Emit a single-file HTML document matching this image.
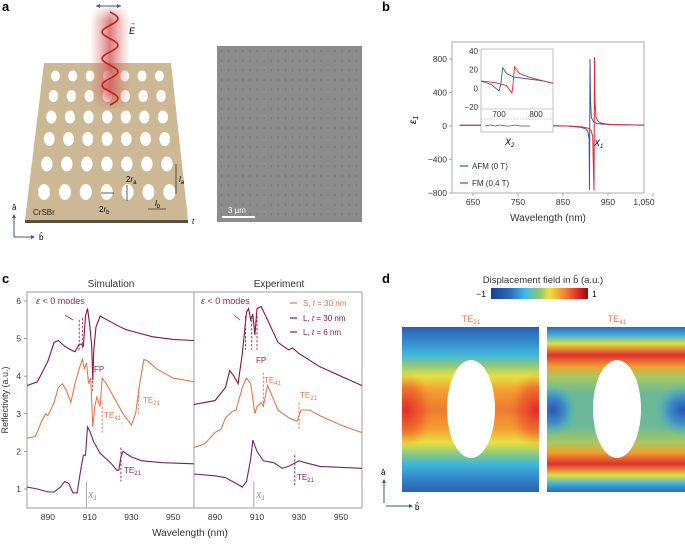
<!DOCTYPE html>
<html><head><meta charset="utf-8">
<style>
html,body{margin:0;padding:0;background:#fff;}
body{width:685px;height:539px;overflow:hidden;font-family:"Liberation Sans",sans-serif;}
svg text{font-family:"Liberation Sans",sans-serif;}
</style></head>
<body>
<svg id="fig" width="685" height="539" viewBox="0 0 685 539" xmlns="http://www.w3.org/2000/svg">
<defs>
<linearGradient id="beam" x1="0" x2="1" y1="0" y2="0">
<stop offset="0" stop-color="#e07070" stop-opacity="0"/><stop offset="0.5" stop-color="#d05050" stop-opacity="0.75"/><stop offset="1" stop-color="#e07070" stop-opacity="0"/></linearGradient>
<linearGradient id="beamv" x1="0" x2="0" y1="0" y2="1">
<stop offset="0" stop-color="#fff" stop-opacity="0"/><stop offset="0.15" stop-color="#fff" stop-opacity="1"/><stop offset="0.85" stop-color="#fff" stop-opacity="1"/><stop offset="1" stop-color="#fff" stop-opacity="0"/></linearGradient>
<mask id="bm"><rect x="90" y="5" width="40" height="105" fill="url(#beamv)"/></mask>
<linearGradient id="cbar" x1="0" x2="1">
<stop offset="0" stop-color="#1a3f8f"/><stop offset="0.2" stop-color="#2f6cc0"/><stop offset="0.35" stop-color="#40b8e8"/><stop offset="0.5" stop-color="#8cc870"/><stop offset="0.6" stop-color="#f0e040"/><stop offset="0.75" stop-color="#f08a30"/><stop offset="0.9" stop-color="#e02828"/><stop offset="1" stop-color="#8a1010"/></linearGradient>
<linearGradient id="f21" x1="0" x2="0" y1="0" y2="1">
<stop offset="0" stop-color="#2c5fb2"/><stop offset="0.1" stop-color="#3590d0"/><stop offset="0.17" stop-color="#40b8d8"/><stop offset="0.23" stop-color="#8ac880"/><stop offset="0.3" stop-color="#e8e040"/><stop offset="0.38" stop-color="#f4a030"/><stop offset="0.5" stop-color="#ee7a30"/><stop offset="0.62" stop-color="#f4a030"/><stop offset="0.7" stop-color="#e8e040"/><stop offset="0.77" stop-color="#8ac880"/><stop offset="0.83" stop-color="#40b8d8"/><stop offset="0.9" stop-color="#3590d0"/><stop offset="1" stop-color="#2c5fb2"/></linearGradient>
<linearGradient id="f41" x1="0" x2="0" y1="0" y2="1">
<stop offset="0" stop-color="#3466b4"/><stop offset="0.05" stop-color="#40b0e0"/><stop offset="0.1" stop-color="#e0e040"/><stop offset="0.17" stop-color="#e03030"/><stop offset="0.24" stop-color="#f0a030"/><stop offset="0.3" stop-color="#a8c860"/><stop offset="0.4" stop-color="#6cb898"/><stop offset="0.6" stop-color="#6cb898"/><stop offset="0.7" stop-color="#a8c860"/><stop offset="0.76" stop-color="#f0a030"/><stop offset="0.83" stop-color="#e03030"/><stop offset="0.9" stop-color="#e0e040"/><stop offset="0.95" stop-color="#40b0e0"/><stop offset="1" stop-color="#3466b4"/></linearGradient>
<radialGradient id="redspot"><stop offset="0" stop-color="#e02828" stop-opacity="0.95"/><stop offset="0.6" stop-color="#e84a2a" stop-opacity="0.5"/><stop offset="1" stop-color="#f08030" stop-opacity="0"/></radialGradient>
<radialGradient id="bluespot"><stop offset="0" stop-color="#2a55b0"/><stop offset="0.5" stop-color="#3580d0" stop-opacity="0.8"/><stop offset="1" stop-color="#40b8d8" stop-opacity="0"/></radialGradient>
<clipPath id="clipL"><rect x="402" y="327" width="137" height="165"/></clipPath>
<clipPath id="clipR"><rect x="547" y="327" width="138" height="165"/></clipPath>
<clipPath id="clipC1"><rect x="27" y="292" width="167" height="216"/></clipPath>
<clipPath id="clipC2"><rect x="194" y="292" width="168" height="216"/></clipPath>
<clipPath id="clipB"><rect x="452" y="42" width="192" height="151"/></clipPath>
<clipPath id="clipI"><rect x="481" y="49" width="72" height="60"/></clipPath>
</defs>

<!-- Panel a -->
<g>
<text x="2" y="11" font-size="13" font-weight="bold">a</text>
<polygon points="44,63 171,63 188,220 25,220" fill="#cdb895"/>
<polygon points="25,220 188,220 188,223 25,223" fill="#5a5040"/>
<g id="holes"></g>
<rect x="90" y="5" width="40" height="105" fill="url(#beam)" mask="url(#bm)"/>
<path id="wave" fill="none" stroke="#c02020" stroke-width="1.6"/>
<line x1="96" y1="6" x2="121" y2="6" stroke="#3a5a80" stroke-width="1"/>
<path d="M96,6 l4,-2 v4z M121,6 l-4,-2 v4z" fill="#3a5a80"/>
<text x="129" y="34" font-size="9" font-style="italic">E</text>
<text x="129" y="25" font-size="7">→</text>
<text x="33" y="215" font-size="8" fill="#222">CrSBr</text>
<text x="99" y="212" font-size="8">2<tspan font-style="italic">r</tspan><tspan font-size="6" dy="2">b</tspan></text>
<text x="126" y="182" font-size="8">2<tspan font-style="italic">r</tspan><tspan font-size="6" dy="2">a</tspan></text>
<line x1="101" y1="193" x2="114" y2="193" stroke="#333" stroke-width="0.8"/>
<line x1="127" y1="185" x2="127" y2="201" stroke="#333" stroke-width="0.8"/>
<line x1="176" y1="164" x2="176" y2="194" stroke="#333" stroke-width="0.8"/>
<text x="179" y="182" font-size="8" font-style="italic">l<tspan font-size="6" dy="2">a</tspan></text>
<line x1="148" y1="209" x2="166" y2="209" stroke="#333" stroke-width="0.8"/>
<text x="155" y="206" font-size="8" font-style="italic">l<tspan font-size="6" dy="2">b</tspan></text>
<text x="192" y="224" font-size="8" font-style="italic">t</text>
<g stroke="#3a5a80" stroke-width="1" fill="none">
<path d="M14,237 V216 M14,237 H33"/></g>
<path d="M14,214 l-2,4 h4z M35,237 l-4,-2 v4z" fill="#3a5a80"/>
<text x="12" y="210" font-size="8">â</text>
<text x="39" y="240" font-size="8">b̂</text>
<rect x="217" y="46" width="145" height="176" fill="#8c8c8c"/>
<g id="semdots"></g>
<line x1="222" y1="217" x2="255" y2="217" stroke="#fff" stroke-width="2"/>
<text x="228" y="213" font-size="8" fill="#fff">3 µm</text>
</g>

<!-- Panel b -->
<g>
<text x="382" y="11" font-size="13" font-weight="bold">b</text>
<rect x="452" y="42" width="192" height="151" fill="none" stroke="#999" stroke-width="0.8"/>
<g id="bticks"></g>
<g id="bseries" clip-path="url(#clipB)"></g>
<rect x="481" y="49" width="72" height="83" fill="#fff" stroke="#999" stroke-width="0.6"/>
<line x1="481" y1="109" x2="553" y2="109" stroke="#999" stroke-width="0.6"/>
<line x1="481" y1="119" x2="553" y2="119" stroke="#999" stroke-width="0.6" stroke-dasharray="1.5,1.5"/>
<path d="M485,126 l5,-1 5,1 5,-1 5,1 5,0 5,-1 5,1 5,0 5,0" stroke="#8a3a7a" fill="none" stroke-width="0.8"/>
<g id="iticks"></g>
<g id="iseries" clip-path="url(#clipI)"></g>
<text x="505" y="145" font-size="9" font-style="italic">X<tspan font-size="6" dy="2">2</tspan></text>
<text x="594" y="146" font-size="9" font-style="italic">X<tspan font-size="6" dy="2">1</tspan></text>
<line x1="460" y1="166" x2="468" y2="166" stroke="#2e5fa8" stroke-width="1.2"/>
<text x="472" y="169" font-size="8" fill="#333">AFM (0 T)</text>
<line x1="460" y1="183" x2="468" y2="183" stroke="#e0282e" stroke-width="1.2"/>
<text x="472" y="186" font-size="8" fill="#333">FM (0.4 T)</text>
<text x="548" y="221" font-size="10" text-anchor="middle" fill="#333">Wavelength (nm)</text>
<text transform="translate(416,120) rotate(-90)" font-size="10" font-style="italic" text-anchor="middle">ε<tspan font-size="7" dy="2">1</tspan></text>
</g>

<!-- Panel c -->
<g>
<text x="2" y="283" font-size="13" font-weight="bold">c</text>
<text x="111" y="287" font-size="10" text-anchor="middle" fill="#333">Simulation</text>
<text x="279" y="287" font-size="10" text-anchor="middle" fill="#333">Experiment</text>
<rect x="27" y="292" width="335" height="216" fill="none" stroke="#888" stroke-width="0.8"/>
<line x1="194" y1="292" x2="194" y2="508" stroke="#888" stroke-width="0.8"/>
<g id="cticks"></g>
<g id="csim" clip-path="url(#clipC1)"></g>
<g id="cexp" clip-path="url(#clipC2)"></g>
<g id="cmarks"></g>
<text x="36" y="304" font-size="9" fill="#a0245a"><tspan font-style="italic">ε</tspan> &lt; 0 modes</text>
<text x="201" y="304" font-size="9" fill="#a0245a"><tspan font-style="italic">ε</tspan> &lt; 0 modes</text>
<path d="M65,315 l8,5 M234,315 l6,5" stroke="#a0245a" stroke-width="0.8"/>
<text x="94" y="372" font-size="8" fill="#a0245a">FP</text>
<text x="256" y="363" font-size="8" fill="#a0245a">FP</text>
<text x="104" y="418" font-size="8" fill="#e8784a">TE<tspan font-size="6" dy="2">41</tspan></text>
<text x="143" y="403" font-size="8" fill="#e8784a">TE<tspan font-size="6" dy="2">21</tspan></text>
<text x="124" y="473" font-size="8" fill="#7a1f6e">TE<tspan font-size="6" dy="2">21</tspan></text>
<text x="264" y="383" font-size="8" fill="#e8784a">TE<tspan font-size="6" dy="2">41</tspan></text>
<text x="300" y="398" font-size="8" fill="#e8784a">TE<tspan font-size="6" dy="2">21</tspan></text>
<text x="297" y="480" font-size="8" fill="#7a1f6e">TE<tspan font-size="6" dy="2">21</tspan></text>
<text x="88" y="498" font-size="8" font-style="italic" fill="#888">X<tspan font-size="6" dy="2">1</tspan></text>
<text x="256" y="498" font-size="8" font-style="italic" fill="#888">X<tspan font-size="6" dy="2">1</tspan></text>
<g font-size="8">
<line x1="290" y1="303" x2="297" y2="303" stroke="#e8784a" stroke-width="1.2"/><text x="303" y="306" fill="#e8784a">S, <tspan font-style="italic">t</tspan> = 30 nm</text>
<line x1="290" y1="318" x2="297" y2="318" stroke="#8b1538" stroke-width="1.2"/><text x="303" y="321" fill="#8b1538">L, <tspan font-style="italic">t</tspan> = 30 nm</text>
<line x1="290" y1="332" x2="297" y2="332" stroke="#7a1f6e" stroke-width="1.2"/><text x="303" y="335" fill="#7a1f6e">L, <tspan font-style="italic">t</tspan> = 6 nm</text>
</g>
<text x="190" y="536" font-size="10" text-anchor="middle" fill="#333">Wavelength (nm)</text>
<text transform="translate(8,400) rotate(-90)" font-size="9" text-anchor="middle" fill="#333">Reflectivity (a.u.)</text>
</g>

<!-- Panel d -->
<g>
<text x="382" y="283" font-size="13" font-weight="bold">d</text>
<text x="543" y="283" font-size="9.5" text-anchor="middle" fill="#333">Displacement field in b̂ (a.u.)</text>
<rect x="491" y="288" width="97" height="11" fill="url(#cbar)"/>
<text x="486" y="297" font-size="8.5" text-anchor="end">−1</text>
<text x="592" y="297" font-size="8.5">1</text>
<text x="471" y="322" font-size="9" text-anchor="middle" fill="#e8784a">TE<tspan font-size="6" dy="2">21</tspan></text>
<text x="617" y="322" font-size="9" text-anchor="middle" fill="#e8784a">TE<tspan font-size="6" dy="2">41</tspan></text>
<g clip-path="url(#clipL)">
<rect x="402" y="327" width="137" height="165" fill="url(#f21)"/>
<ellipse cx="406" cy="410" rx="28" ry="38" fill="url(#redspot)"/>
<ellipse cx="536" cy="410" rx="28" ry="38" fill="url(#redspot)"/>
<ellipse cx="471" cy="409" rx="24" ry="49" fill="#fff"/>
</g>
<g clip-path="url(#clipR)">
<rect x="547" y="327" width="138" height="165" fill="url(#f41)"/>
<ellipse cx="553" cy="410" rx="24" ry="26" fill="url(#bluespot)"/>
<ellipse cx="683" cy="410" rx="28" ry="26" fill="url(#bluespot)"/>
<ellipse cx="617" cy="409" rx="24" ry="49" fill="#fff"/>
</g>
<path d="M384,503 V482 M386,506 H410" stroke="#3a5a80" stroke-width="1"/>
<path d="M384,479 l-2,4 h4z M413,506 l-4,-2 v4z" fill="#3a5a80"/>
<text x="381" y="475" font-size="8">â</text>
<text x="415" y="510" font-size="8">b̂</text>
</g>
</svg>
<script>
// ---------- Panel b data ----------
const bXTicks = [650, 750, 850, 950, 1050];
const bXTickLabels = ["650", "750", "850", "950", "1,050"];
const bYTicks = [800, 400, 0, -400, -800];
const bWave = [620, 700, 800, 860, 890, 900, 905, 908, 909, 910, 911, 913, 918, 925, 940, 980, 1040];
const bAFM = [10, 8, 5, 0, -15, -35, -60, -150, -760, 800, 300, 100, 50, 30, 20, 15, 10];
const bFMWave = [620, 700, 800, 860, 890, 905, 912, 916, 919, 920, 921, 923, 928, 935, 950, 980, 1040];
const bFM = [10, 8, 5, 0, -10, -25, -50, -120, -770, 820, 300, 110, 55, 35, 22, 15, 10];
const iXTicks = [700, 800];
const iYTicks = [40, 20, 0, -20];
const iWave = [650, 680, 700, 705, 710, 720, 740, 780, 820, 850];
const iAFM = [8, 4, -3, 5, 22, 16, 12, 10, 8, 5];
const iFMWave = [650, 690, 720, 735, 738, 742, 755, 780, 820, 850];
const iFM = [8, 6, 3, -5, 5, 23, 16, 12, 8, 5];

// ---------- Panel c data ----------
const cXTicks = [890, 910, 930, 950];
const cYTicks = [1, 2, 3, 4, 5, 6];
const simL30W = [880,885,890,893,895,898,901,903,905,906,907,908,909,910,911,911.5,912,913,915,920,925,927,930,940,950,960];
const simL30 = [3.75,3.85,4.4,4.9,4.95,4.8,4.7,4.65,4.85,4.85,4.8,5.6,5.8,5.4,4.8,3.9,4.7,5.3,5.6,5.45,5.3,5.25,5.2,5.05,4.98,4.95];
const simSW = [880,884,887,889,890,893,895,897,899,901,903,905,906.5,907.5,908.5,909.5,910.5,911.5,912.5,913.5,915,916,918,922,926,930,932,934,936,938,942,950,960];
const simS = [2.35,2.4,2.8,3.0,2.95,3.3,3.7,3.8,3.6,3.3,3.8,4.2,4.45,4.2,4.35,3.8,3.95,2.65,3.2,3.45,3.2,3.95,3.8,3.4,3.0,2.7,3.0,3.8,4.45,4.4,4.2,3.95,3.85];
const simL6W = [880,885,890,893,896,898,900,902,904,906,907,908,909,910,912,915,920,923,924,925,926,930,935,945,960];
const simL6 = [1.05,1.0,0.92,0.92,1.05,1.2,1.15,0.9,0.9,1.6,1.9,1.9,2.65,2.55,2.25,1.95,1.7,1.5,1.5,1.85,2.0,1.85,1.75,1.7,1.67];
const expL30W = [880,890,895,897,899,901,903,905,906,907,908,909,910,912,915,920,925,927,930,940,950,960];
const expL30 = [3.25,3.35,3.7,4.15,4.0,3.8,4.6,5.7,5.8,5.5,5.65,5.1,5.8,5.85,5.5,4.9,4.7,4.75,4.6,4.25,4.0,3.75];
const expSW = [880,885,890,893,895,898,900,903,905,907,909,910,912,913,915,917,920,925,929,931,935,940,950,960];
const expS = [2.1,2.2,2.5,2.6,2.9,3.05,3.1,3.7,3.95,3.8,3.0,3.2,3.3,3.2,3.75,3.5,3.1,2.9,2.8,3.1,3.1,2.95,2.7,2.5];
const expL6W = [880,890,895,900,903,905,907,908,910,913,918,922,925,930,933,940,960];
const expL6 = [1.4,1.35,1.3,1.15,1.05,1.2,1.8,2.3,2.0,1.75,1.7,1.55,1.6,1.75,1.7,1.6,1.55];

const NS = "http://www.w3.org/2000/svg";
function mk(tag, attrs, parent) {
  const e = document.createElementNS(NS, tag);
  for (const k in attrs) e.setAttribute(k, attrs[k]);
  parent.appendChild(e);
  return e;
}
function lin(d0, d1, r0, r1) { return v => r0 + (v - d0) * (r1 - r0) / (d1 - d0); }

// Panel a holes
const holes = document.getElementById('holes');
const rowY = [76, 96, 117, 139, 164, 192];
for (let r = 0; r < 6; r++) {
  const t = r / 5;
  const y = rowY[r];
  const left = 44 + (25 - 44) * (y - 63) / 157;
  const right = 171 + (188 - 171) * (y - 63) / 157;
  const w = right - left;
  for (let c = 0; c < 7; c++) {
    const x = left + w * (0.1 + c * 0.8 / 6);
    const h = mk('ellipse', {cx: x, cy: y, rx: 4.5 + t * 1.5, ry: 5.5 + t * 2.5, fill: '#fff'}, holes);
    
    
  }
}
let wd = '';
for (let i = 0; i <= 60; i++) { const y = 12 + i * 1.55; const x = 110 + 8 * Math.sin(i / 60 * Math.PI * 7); wd += (i ? 'L' : 'M') + x.toFixed(1) + ',' + y.toFixed(1); }
document.getElementById('wave').setAttribute('d', wd);
const sd = document.getElementById('semdots');
for (let r = 0; r < 18; r++) for (let c = 0; c < 20; c++) {
  mk('rect', {x: 221 + c * 7.1, y: 50 + r * 9.6, width: 1, height: 2.2, fill: '#767676'}, sd);
}

// Panel b
const bx = lin(650, 950, 473, 608), by = lin(800, -800, 59, 193);
const bt = document.getElementById('bticks');
bXTicks.forEach((v, i) => {
  mk('line', {x1: bx(v), x2: bx(v), y1: 193, y2: 196, stroke: '#999', 'stroke-width': 0.8}, bt);
  const t = mk('text', {x: Math.min(bx(v), 644), y: 205, 'font-size': 8.5, 'text-anchor': 'middle', fill: '#333'}, bt);
  t.textContent = bXTickLabels[i];
  
  
});
bYTicks.forEach(v => {
  mk('line', {x1: 449, x2: 452, y1: by(v), y2: by(v), stroke: '#999', 'stroke-width': 0.8}, bt);
  const t = mk('text', {x: 447, y: by(v) + 3, 'font-size': 8.5, 'text-anchor': 'end', fill: '#333'}, bt);
  t.textContent = v < 0 ? '−' + (-v) : String(v);
  
  
});
function path(xs, ys, fx, fy) { return xs.map((x, i) => (i ? 'L' : 'M') + fx(x).toFixed(1) + ',' + fy(ys[i]).toFixed(1)).join(''); }
const bs = document.getElementById('bseries');
let p = mk('path', {d: path(bWave, bAFM, bx, by), fill: 'none', stroke: '#2e5fa8', 'stroke-width': 1}, bs);


p = mk('path', {d: path(bFMWave, bFM, bx, by), fill: 'none', stroke: '#e0282e', 'stroke-width': 1}, bs);


const ix = lin(700, 800, 499, 536), iy = lin(40, -20, 51, 107);
const it = document.getElementById('iticks');
iXTicks.forEach(v => {
  const t = mk('text', {x: ix(v), y: 117, 'font-size': 8, 'text-anchor': 'middle', fill: '#333'}, it);
  t.textContent = v;
  
  
});
iYTicks.forEach(v => {
  const t = mk('text', {x: 478, y: iy(v) + 3, 'font-size': 8, 'text-anchor': 'end', fill: '#333'}, it);
  t.textContent = v < 0 ? '−' + (-v) : String(v);
  
  
});
const is = document.getElementById('iseries');
p = mk('path', {d: path(iWave, iAFM, ix, iy), fill: 'none', stroke: '#2e5fa8', 'stroke-width': 0.9}, is);


p = mk('path', {d: path(iFMWave, iFM, ix, iy), fill: 'none', stroke: '#e0282e', 'stroke-width': 0.9}, is);



// Panel c
const cx1 = lin(880, 960, 27, 194), cx2 = lin(880, 960, 194, 362), cy = lin(6, 1, 301, 489);
const ct = document.getElementById('cticks');
cXTicks.forEach(v => {
  [cx1, cx2].forEach(f => {
    const t = mk('text', {x: f(v), y: 520, 'font-size': 8.5, 'text-anchor': 'middle', fill: '#333'}, ct);
    t.textContent = v;
    
    
  });
});
cYTicks.forEach(v => {
  mk('line', {x1: 24, x2: 27, y1: cy(v), y2: cy(v), stroke: '#888', 'stroke-width': 0.8}, ct);
  const t = mk('text', {x: 21, y: cy(v) + 3, 'font-size': 8.5, 'text-anchor': 'end', fill: '#333'}, ct);
  t.textContent = v;
  
  
});
const cs = document.getElementById('csim'), ce = document.getElementById('cexp');
[[simL30W, simL30, '#8b1538', 'sim-l30-series'], [simSW, simS, '#e8784a', 'sim-s30-series'], [simL6W, simL6, '#7a1f6e', 'sim-l6-series']].forEach(s => {
  const e = mk('path', {d: path(s[0], s[1], cx1, cy), fill: 'none', stroke: s[2], 'stroke-width': 1.1}, cs);
  
  
});
[[expL30W, expL30, '#8b1538', 'exp-l30-series'], [expSW, expS, '#e8784a', 'exp-s30-series'], [expL6W, expL6, '#7a1f6e', 'exp-l6-series']].forEach(s => {
  const e = mk('path', {d: path(s[0], s[1], cx2, cy), fill: 'none', stroke: s[2], 'stroke-width': 1.1}, ce);
  
  
});
const cm = document.getElementById('cmarks');
const dashes = [
  [cx1, 905, 4.7, 5.5, '#a0245a'], [cx1, 906.5, 4.75, 5.55, '#a0245a'], [cx1, 911.5, 3.6, 4.3, '#a0245a'],
  [cx1, 916, 2.5, 3.3, '#e8784a'], [cx1, 933.5, 3.0, 3.7, '#e8784a'], [cx1, 925, 1.2, 2.1, '#7a1f6e'],
  [cx2, 904.5, 4.7, 5.6, '#a0245a'], [cx2, 907.5, 4.7, 5.6, '#a0245a'], [cx2, 910, 4.7, 5.6, '#a0245a'],
  [cx2, 913, 3.2, 4.1, '#e8784a'], [cx2, 930, 2.6, 3.3, '#e8784a'], [cx2, 928, 1.1, 1.9, '#7a1f6e']
];
dashes.forEach(d => {
  const l = mk('line', {x1: d[0](d[1]), x2: d[0](d[1]), y1: cy(d[3]), y2: cy(d[2]), stroke: d[4], 'stroke-width': 0.9, 'stroke-dasharray': '2.5,1.5'}, cm);
  
  
});
[cx1, cx2].forEach(f => {
  mk('line', {x1: f(908.5), x2: f(908.5), y1: cy(1.2), y2: 508, stroke: '#aaa', 'stroke-width': 1}, cm);
});
</script>
</body></html>
